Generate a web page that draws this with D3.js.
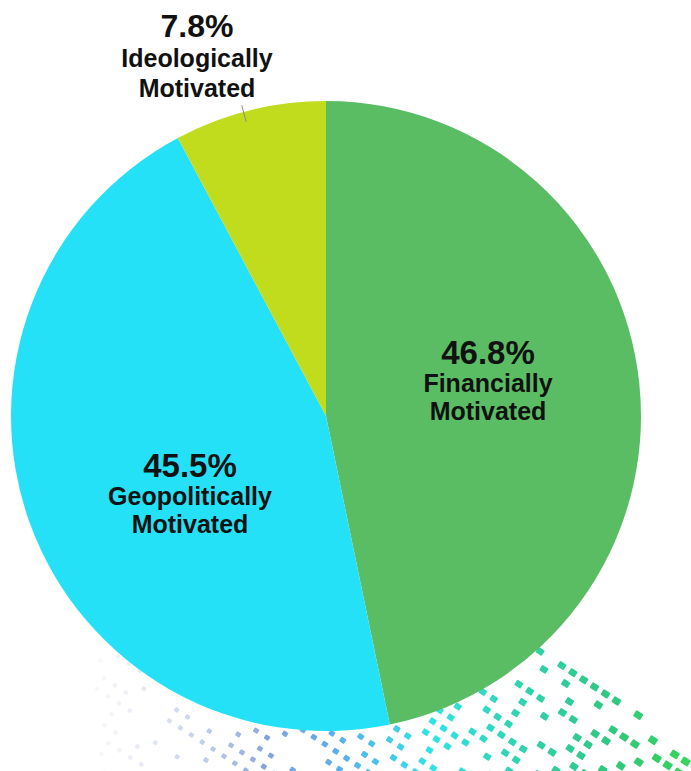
<!DOCTYPE html>
<html>
<head>
<meta charset="utf-8">
<script src="https://cdn.jsdelivr.net/npm/d3@7"></script>
<style>
  html, body { margin: 0; padding: 0; background: #ffffff; }
  svg { display: block; }
</style>
</head>
<body>
<script>
// ---- data ----
const categories = ["Financially Motivated", "Geopolitically Motivated", "Ideologically Motivated"];
const values = [46.8, 45.5, 7.8];
const pctLabels = ["46.8%", "45.5%", "7.8%"];
const labelLine1 = ["Financially", "Geopolitically", "Ideologically"];
const labelLine2 = ["Motivated", "Motivated", "Motivated"];

// ---- style / layout ----
const W = 691, H = 771;
const cx = 326, cy = 416, R = 315;
const colors = ["#5bbd63", "#25e1f7", "#c0dc1c"];
const labelAnchors = [ {x: 488, y: 392}, {x: 190, y: 505}, {x: 197, y: 67} ];
const pctSizes = [33, 33, 32];
const lineGaps = [28, 28, 30];

const svg = d3.select("body").append("svg").attr("width", W).attr("height", H);

// ---- decorative halftone pattern (background) ----
const deco = svg.append("g");
const ang = 33 * Math.PI / 180, step = 13;
const ux = Math.cos(ang) * step, uy = Math.sin(ang) * step;
const vx = -Math.sin(ang) * step, vy = Math.cos(ang) * step;
const colorScale = d3.scaleLinear()
  .domain([130, 260, 340, 430, 520, 610, 691])
  .range(["#c9d3e6", "#7f9ad8", "#4aa8ea", "#1fe0e6", "#1fd0a8", "#1fc276", "#28d24a"]);
function hash(i, j) {
  let h = Math.imul(i + 1000, 374761393) ^ Math.imul(j + 2000, 668265263);
  h = Math.imul(h ^ (h >>> 13), 1274126177);
  h = h ^ (h >>> 16);
  return (h >>> 0) / 4294967296;
}
function topEdge(x) { return x > 540 ? 655 + (x - 560) * 0.75 : 650; }
for (let i = -60; i <= 60; i++) {
  for (let j = -60; j <= 60; j++) {
    const x = 400 + i * ux + j * vx, y = 700 + i * uy + j * vy;
    if (x < 95 || x > W + 6 || y < 600 || y > H + 6) continue;
    if (y < topEdge(x)) continue;
    if (hash(i, j) < 0.45) continue;
    const t = Math.max(0, Math.min(1, (x - 100) / 560));
    const sw = 4 + t * 4.5, sh = 4 + t * 3;
    const op = x < 260 ? 0.25 + (x - 95) / 165 * 0.6 : 0.92;
    deco.append("rect")
      .attr("x", -sw / 2).attr("y", -sh / 2)
      .attr("width", sw).attr("height", sh)
      .attr("rx", 1)
      .attr("fill", colorScale(x))
      .attr("opacity", op)
      .attr("transform", `translate(${x},${y}) rotate(33)`);
  }
}

// ---- pie ----
const pie = d3.pie().sort(null).value(d => d)(values);
const arc = d3.arc().innerRadius(0).outerRadius(R);
const g = svg.append("g").attr("transform", `translate(${cx},${cy})`);
g.selectAll("path").data(pie).join("path")
  .attr("d", arc)
  .attr("fill", (d, i) => colors[i]);

// leader line for the small slice
const small = pie[2];
const mid = (small.startAngle + small.endAngle) / 2 - 0.02;
const lineIn = d3.arc().innerRadius(R * 0.968).outerRadius(R * 0.968).centroid({startAngle: mid, endAngle: mid});
const lineOut = d3.arc().innerRadius(R * 1.022).outerRadius(R * 1.022).centroid({startAngle: mid, endAngle: mid});
g.append("line")
  .attr("x1", lineIn[0]).attr("y1", lineIn[1])
  .attr("x2", lineOut[0]).attr("y2", lineOut[1])
  .attr("stroke", "#8a8a8a").attr("stroke-width", 1);

// ---- labels ----
const font = "'Liberation Sans', Arial, Helvetica, sans-serif";
const lbl = svg.append("g").attr("font-family", font).attr("font-weight", "bold")
  .attr("fill", "#111111").attr("text-anchor", "middle");
categories.forEach((c, i) => {
  const a = labelAnchors[i];
  lbl.append("text").attr("x", a.x).attr("y", a.y - lineGaps[i])
    .attr("font-size", pctSizes[i]).text(pctLabels[i]);
  lbl.append("text").attr("x", a.x).attr("y", a.y)
    .attr("font-size", 25).text(labelLine1[i]);
  lbl.append("text").attr("x", a.x).attr("y", a.y + lineGaps[i])
    .attr("font-size", 25).text(labelLine2[i]);
});
</script>
</body>
</html>
